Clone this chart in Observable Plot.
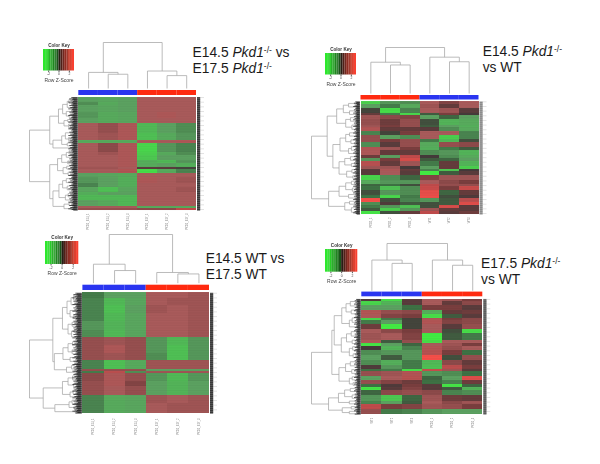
<!DOCTYPE html>
<html><head><meta charset="utf-8">
<script src="https://cdn.jsdelivr.net/npm/d3@7"></script>
<script src="https://cdn.jsdelivr.net/npm/@observablehq/plot@0.6"></script>
<style>
html,body{margin:0;padding:0;background:#fff}
#page{position:relative;width:600px;height:464px;overflow:hidden;background:#fff;font-family:"Liberation Sans",Arial,sans-serif}
#page svg{position:absolute;background:transparent;filter:blur(.42px)}
.ttl{position:absolute;font-size:13.8px;line-height:16.6px;color:#1a1a1a;white-space:nowrap}
.ttl sup{font-size:8.5px;line-height:0;vertical-align:4.5px}
</style></head><body><div id="page"></div>
<script>
// each row: [gene count, six row z-scores]
const rowsA=[[15,-1,-1.1,-1,1,1,1],[10,-.8,-1.2,-1,1,1,1],[20,-1,-1.1,-1,1,1,1],[20,-.9,-1.2,-1.1,1,1.1,1],[15,-1,-1.2,-1.1,1,1,1],
[30,1,.8,1.1,-1.5,-1,-.8],[20,1,.9,1.1,-1.6,-1.2,-.9],[10,-1.2,-1.2,-1.2,1,1,1.1],[25,1,.7,1.1,-1.9,-.9,-.7],[10,1,.9,1.1,-1.8,-1.2,-.8],
[15,1,1,1.1,-1.7,-1,-1],[10,1,1,1.1,-1.3,-1.5,-.9],[12,1,1,1.1,-1.2,-1,-1.3],[6,.9,.9,1,.2,.2,-.1],[12,1,1,1.2,-2,-1.2,-.7],
[10,-1,-1.1,-1.2,1,1,1],[20,-.9,-1,-1.3,1.1,1,.9],[10,-.7,-1,-1.3,1,1,1],[15,-1.1,-1.6,-1.1,1,1,.9],[10,-1.3,-1,-1,1,1,1],[15,-1.5,-1.5,-1.5,1,1,1],[17,-1,-1.2,-1.5,1,1,1],[6,1,1,1,-1.2,-1.2,-1.2],[7,.8,.8,.8,.7,.7,1.5]];
const rowsB=[[9,-1.8,-.9,-.8,1,.6,1],[13,-1,-.6,-1.2,.9,.3,1],[13,-.1,-2,-.7,1,.9,.2],[7,.3,-.6,-1.9,-.3,.5,0],[13,.9,.7,.6,-1,-.4,-1],[17,.8,.4,.8,-.2,-1.4,-1.2],[7,.9,.5,.8,-.3,-1,-1.3],[12,1.2,.3,.3,.2,-.8,-1.2],[11,-.7,-.1,.5,1,1,-.7],[13,.8,-1,-.8,1,-1.8,-.7],[8,.8,.5,.8,-.6,-1.5,-.2],[14,-.8,.2,.8,-1.2,.8,.7],[10,1.2,.9,.5,-1.3,-.6,-.3],[15,1.1,.3,.3,-.8,-.9,-1.4],[10,.4,-1,1.5,0,-.8,-1.2],[10,-.9,.5,1.8,-.3,-.4,-1],[13,1.3,.3,.9,-.6,.3,-1.4],[10,.9,.9,0,-1,.3,-1.8],[7,.2,1.1,.3,-.7,-1.7,0],[12,.2,1,.2,-2.2,-.3,.2],[13,-1.9,-.8,-.4,.6,.9,.9],[12,-1.2,-.9,-.9,1,.7,.5],[8,-.4,-.5,-.2,1.5,.8,.8],[12,-.5,-1.6,-.8,1.6,.5,1.6],[15,-.2,-.9,-.8,2,-.4,.3],[8,-.5,-1.9,-.6,2.1,-.2,.1],[12,2.2,-.2,-.7,-.9,-.3,1.4],[8,-.8,.1,-.3,-.2,-.3,1.9],[10,-.6,-.9,-1.6,-.2,1.8,.2],[10,-.3,-1.8,-.9,.9,.3,.2],[8,-2.1,-.2,.3,1.5,.2,.4]];
const rowsC=[[17,-.6,-1,-1,1,1,.9],[20,-.7,-1.5,-1.1,1,.9,.9],[25,-.7,-1.6,-1,.9,1,.9],[25,-.7,-1.5,-1.1,1,1,.9],[25,-.9,-1.4,-1.1,1,1,.9],[22,-.8,-1.5,-1.1,1,1,.9],
[23,.8,.9,.8,-.9,-1.5,-.9],[25,.8,1.1,.8,-.9,-1.6,-.9],[22,.8,.9,.8,-.8,-1.6,-.9],[26,-.7,-1.6,-1.2,.9,.9,.9],[5,.8,.8,.8,-1,-1,-1],[7,-.6,1.4,-.8,.9,.9,.9],[25,.7,1.1,.8,-.9,-1.5,-.9],[15,.8,1.1,.6,-1,-1.4,-1],[25,.8,1,.8,-1,-1.4,-1],[25,-.7,-1.2,-1.1,.9,1,.9],[30,-.7,-1.2,-1.1,1,.9,.9]];
const rowsD=[[8,.1,-2,.2,1,.9,.5],[12,-1.9,-1.4,.2,1,.3,.7],[13,-1,-1,-.5,.5,.5,.2],[14,1.2,.8,.7,-1.3,.3,.4],[10,1.1,.6,.5,-2,-.3,.2],[8,-1.9,-.6,-.1,1.1,.5,.7],[12,-.6,-1,-.1,1.2,.6,.7],[13,.4,-2.2,-.1,1,.2,.8],[13,1,.7,.5,1,-.2,-2],[20,.9,1,.6,-2.2,-.3,-.6],[10,1.1,-.3,.8,-2,1,1],[10,-2.1,-1,-.4,1,.9,.5],[12,0,-1.4,-.7,1.2,.8,1],[15,-.8,-.9,-.9,1.3,.5,-.5],[15,-1,-.3,-.9,2.2,-.2,.8],[15,-.8,-1.3,-.6,-1.5,.7,.3],[10,.1,-.9,-.6,-1.6,1.4,.5],[7,-.5,-.6,-2,1.6,.9,.2],[16,.8,.9,1.2,-.9,-.8,-.5],[10,-1,1,1.3,-.4,-1,1.9],[12,.8,.6,.4,-.5,-.7,.4],[10,-.5,.1,.5,.2,-2.1,-.4],[10,-2.1,.2,.6,.2,-.3,-1.4],[15,-.4,.7,.8,.7,-.7,-.8],[17,-.9,-1.7,-.4,.9,.4,.3],[10,-.7,-1,-.3,1,.7,.9],[13,1.5,.5,.6,.9,.8,.5],[17,.8,-.6,-.7,-.9,-1,-1]];
// column dendrograms: [height, child, child], a number is a column
const topA=[1,[.35,0,[.31,1,2]],[.38,3,[.28,4,5]]];
const topB=[1,[.68,0,[.62,1,2]],[.79,3,[.69,4,5]]];
const topC=[1,[.39,0,[.26,1,2]],[.22,3,[.19,4,5]]];
const topD=[1,[.65,0,[.58,1,2]],[.65,3,[.54,4,5]]];
// row dendrograms: [height, child, child], a number is a gene count
const leftA=[1,[.56,[.37,[.28,[.18,[.14,14,12],14],[.2,12,[.14,10,6]]],[.25,[.17,8,6],[.15,10,[.12,6,8]]]],
  [.49,[.3,[.22,18,[.15,12,8]],[.18,8,10]],[.13,2,2]]],
 [.56,[.39,[.3,[.2,[.14,14,8],12],[.17,12,6]],[.27,[.19,10,8],[.16,12,8]]],
  [.49,[.36,[.28,[.2,14,12],[.18,10,14]],[.22,[.16,10,12],8]],[.25,[.14,10,8],[.1,6,6]]]]];
const leftB=[1,[.67,[.47,[.33,[.22,12,10],[.2,14,8]],[.28,[.18,12,10],[.15,14,12]]],
  [.55,[.4,[.28,[.2,10,10],[.17,14,8]],[.22,[.16,12,10],10]],[.42,[.3,[.18,10,12],[.16,8,10]],[.26,[.15,10,10],[.13,8,8]]]]],
 [.64,[.42,[.28,[.16,10,10],[.14,12,8]],[.22,12,10]],[.3,[.2,10,8],[.16,14,14]]]];
const leftC=[1,[.54,[.35,[.26,[.18,[.13,16,14],18],[.2,20,[.13,12,10]]],[.24,[.16,14,12],[.17,[.12,10,10],18]]],
  [.51,[.34,[.24,[.15,14,12],[.16,16,10]],[.2,14,12]],[.27,[.17,[.12,8,6],10],[.12,6,6]]]],
 [.73,[.35,[.24,[.15,12,14],[.13,10,10]],[.2,[.14,14,10],10]],[.5,[.22,[.16,12,10],[.12,8,8]],[.1,6,6]]]];
const leftD=[1,[.57,[.52,[.36,[.27,[.18,14,12],[.16,12,10]],[.2,[.14,14,12],14]],[.37,[.26,[.16,14,12],[.14,12,8]],[.2,[.13,10,10],[.12,12,10]]]],
  [.42,[.28,[.18,14,10],[.15,12,10]],[.2,[.14,10,8],[.12,8,8]]]],
 [.64,[.43,[.3,[.18,10,8],[.14,12,8]],[.2,8,8]],[.35,[.16,8,6],[.2,8,6]]]];
const namesE14=["PKD1_E14_1","PKD1_E14_2","PKD1_E14_3"], namesE17=["PKD1_E17_1","PKD1_E17_2","PKD1_E17_3"];
const namesKO=["PKD1_1","PKD1_2","PKD1_3"], namesWT=["WT1","WT2","WT3"];
const barBlueRed=["#2a35f0","#2a35f0","#2a35f0","#ff2a10","#ff2a10","#ff2a10"];
const barRedBlue=["#ff2a10","#ff2a10","#ff2a10","#2a35f0","#2a35f0","#2a35f0"];
const keyBreaks=[-2.6,-2.2,-1.85,-1.5,-1.1,-.75,-.4,0,.4,.75,1.1,1.5,1.85,2.2,2.6];
const keyMids=[-2.8,-2.4,-2,-1.7,-1.3,-.9,-.6,-.2,.2,.6,.9,1.3,1.7,2,2.4,2.8];
const keyColors=["#2ce82c","#3ae03a","#26cc26","#2ab02a","#38a838","#1f851f","#2f7f2f","#1a551a","#2a1c14","#4f2018","#6f2820","#8f2c22","#9e3a2e","#c23c2c","#dc4030","#f84030"];
const heatStops=[-2.2,-1.5,-1,-.5,0,.5,1,1.5,2.2];
const heatColors=["#44ee44","#52bb58","#5da362","#3f7345","#463b3b","#7b3f3f","#ab5c5c","#c24c4c","#f8504a"];
const brushReach=[6,4.5,8,5,3.5,7,4.5,9,5.5,4];

const layout=[
 {rows:rowsA,top:topA,left:leftA,bar:barBlueRed,names:[...namesE14,...namesE17],hl:78.3,hr:196,ht:96.7,hb:210,bt:90,bb:95,dt:42,db:88,ll:29,lr:75,tick:1,reach:1,lab:2.7,labGap:3,kx:43.3,ky:48.5,kw:31,kh:21.5},
 {rows:rowsB,top:topB,left:leftB,bar:barRedBlue,names:[...namesKO,...namesWT],hl:360,hr:478,ht:101,hb:214,bt:95,bb:99.5,dt:47,db:93,ll:310.5,lr:358,tick:.5,reach:.7,lab:2.7,labGap:3,kx:325,ky:53.3,kw:31,kh:21.5},
 {rows:rowsC,top:topC,left:leftC,bar:barBlueRed,names:[...namesE14,...namesE17],hl:82.7,hr:209.3,ht:292.7,hb:413.3,bt:285,bb:290.3,dt:234.3,db:283,ll:29.3,lr:80,tick:1,reach:1,lab:2.7,labGap:5,kx:45,ky:241,kw:33.3,kh:23},
 {rows:rowsD,top:topD,left:leftD,bar:barBlueRed,names:[...namesWT,...namesKO],hl:361,hr:482,ht:298.3,hb:414,bt:291.3,bb:296,dt:242.7,db:290,ll:310.7,lr:358,tick:.8,reach:.7,lab:2.7,labGap:3,kx:325,ky:249,kw:32.3,kh:22.7}
];
const titles=[
 {x:192.5,y:44.5,html:'E14.5 <i>Pkd1</i><sup>-/-</sup> vs<br>E17.5 <i>Pkd1</i><sup>-/-</sup>'},
 {x:482.7,y:43.5,html:'E14.5 <i>Pkd1</i><sup>-/-</sup><br>vs WT'},
 {x:205.7,y:250.5,html:'E14.5 WT vs<br>E17.5 WT'},
 {x:481,y:255.5,html:'E17.5 <i>Pkd1</i><sup>-/-</sup><br>vs WT'}
];
const page=document.getElementById("page");

function walkTree(node,nextPos,segs){
  if(typeof node==="number"){const p=nextPos(node);return {p,h:0};}
  const a=walkTree(node[1],nextPos,segs),b=walkTree(node[2],nextPos,segs),h=node[0];
  segs.push({p1:a.p,h1:a.h,p2:a.p,h2:h},{p1:b.p,h1:b.h,p2:b.p,h2:h},{p1:a.p,h1:h,p2:b.p,h2:h});
  return {p:(a.p+b.p)/2,h};
}
function panel(L){
  const total=d3.sum(L.rows,r=>r[0]);
  const cells=[];let y=0;
  for(const r of L.rows){for(let c=0;c<6;c++)cells.push({c,y1:y,y2:y+r[0],z:r[c+1]});y+=r[0];}
  const xu=(L.hr-L.hl)/6,yu=(L.hb-L.ht)/total;
  const X=L.ll-2,Y=L.dt-2,W=L.hr+14-X,H=L.hb+34-Y;
  const topSegs=[];walkTree(L.top,n=>n+.5,topSegs);
  const yTop=h=>-(L.ht-L.db+h*(L.db-L.dt))/yu;
  const leftSegs=[];let acc=0;
  const leafSum=n=>typeof n==="number"?n:leafSum(n[1])+leafSum(n[2]);
  const k=total/leafSum(L.left);
  walkTree(L.left,n=>{const p=acc+n*k/2;acc+=n*k;return p;},leftSegs);
  const xLeft=h=>-(L.hl-L.lr+h*(L.lr-L.ll))/xu;
  const geneTicks=d3.range(1,total,2);
  const svg=Plot.plot({
    width:W,height:H,margin:0,
    x:{domain:[0,6],range:[L.hl-X,L.hr-X],axis:null},
    y:{domain:[0,total],range:[L.ht-Y,L.hb-Y],axis:null},
    color:{type:"linear",domain:heatStops,range:heatColors,interpolate:"rgb"},
    marks:[
      Plot.rect(cells,{x1:d=>d.c,x2:d=>d.c+1,y1:"y1",y2:"y2",fill:"z",shapeRendering:"crispEdges"}),
      Plot.ruleY(d3.range(3,total,5),{x1:0,x2:6,stroke:"#000",strokeOpacity:.07,strokeWidth:.6}),
      Plot.rect(L.bar,{x1:(d,i)=>i,x2:(d,i)=>i+1,y1:-(L.ht-L.bt)/yu,y2:-(L.ht-L.bb)/yu,fill:d=>d}),
      Plot.link(topSegs,{x1:"p1",x2:"p2",y1:d=>yTop(d.h1),y2:d=>yTop(d.h2),stroke:"#aaa",strokeWidth:.8,curve:"linear"}),
      Plot.link(leftSegs,{y1:"p1",y2:"p2",x1:d=>xLeft(d.h1),x2:d=>xLeft(d.h2),stroke:"#a0a0a0",strokeWidth:.7,curve:"linear"}),
      Plot.ruleY(geneTicks,{x1:(d,i)=>-(1+brushReach[i%brushReach.length]*L.reach)/xu,x2:-.6/xu,stroke:"#000",strokeWidth:.65}),
      Plot.ruleY(geneTicks,{x1:6+1/xu,x2:6+4.2/xu,stroke:"#000",strokeWidth:.65,strokeOpacity:L.tick}),
      Plot.ruleY(geneTicks.filter((d,i)=>i%7==0),{x1:6+4/xu,x2:6+8/xu,stroke:"#888",strokeWidth:.4,strokeOpacity:.6}),
      Plot.text(L.names,{x:(d,i)=>i+.5,y:total+L.labGap/yu,text:d=>d,rotate:-90,textAnchor:"end",fontSize:L.lab,fill:"#808080",fontFamily:"Liberation Sans"})
    ]
  });
  svg.style.left=X+"px";svg.style.top=Y+"px";
  page.appendChild(svg);

  const mh=9,mb=16,ms=8;
  const key=Plot.plot({
    width:L.kw+2*ms,height:L.kh+mh+mb,marginLeft:ms,marginRight:ms,marginTop:mh,marginBottom:mb,
    x:{domain:[-3,3],axis:null},y:{domain:[0,1],axis:null},
    color:{type:"threshold",domain:keyBreaks,range:keyColors},
    marks:[
      Plot.barX(keyMids,{x1:(d,i)=>i?keyBreaks[i-1]:-3,x2:(d,i)=>i<15?keyBreaks[i]:3,y1:0,y2:1,fill:d=>d}),
      Plot.axisX({ticks:[-2,0,2],tickSize:1.5,tickPadding:.5,fontSize:3.4,stroke:"#555",fill:"#444",label:"Row Z-Score",labelAnchor:"center",labelArrow:"none",labelOffset:11,fontFamily:"Liberation Sans",tickFormat:d=>d}),
      Plot.text(["Color Key"],{frameAnchor:"top",dy:-5.5,fontSize:4.6,fontWeight:"bold",fill:"#333",fontFamily:"Liberation Sans"})
    ]
  });
  key.style.left=(L.kx-ms)+"px";key.style.top=(L.ky-mh)+"px";
  key.querySelectorAll('[aria-label="x-axis label"] text').forEach(t=>t.style.fontSize="5px");
  page.appendChild(key);
}
layout.forEach(panel);
for(const t of titles){const d=document.createElement("div");d.className="ttl";d.style.left=t.x+"px";d.style.top=t.y+"px";d.innerHTML=t.html;page.appendChild(d);}
</script></body></html>
